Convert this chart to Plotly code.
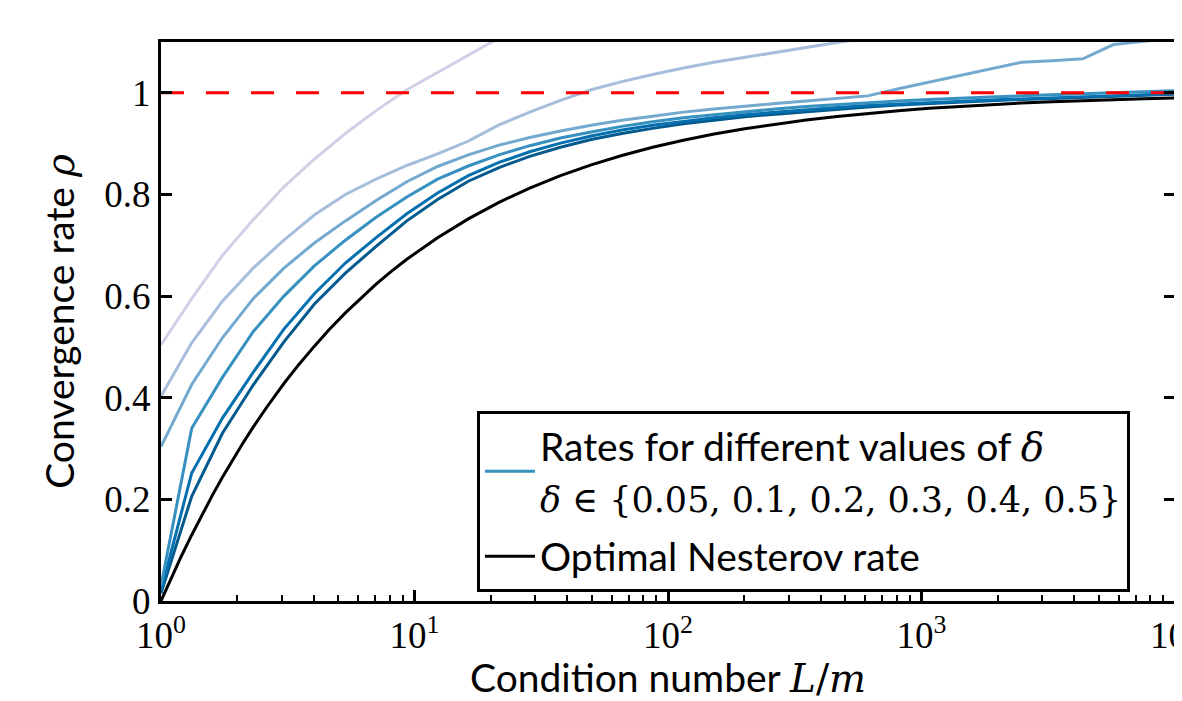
import plotly.graph_objects as go

# Condition numbers (log grid used by the computed rates)
kappa = [1, 1.322, 1.747, 2.310, 3.054, 4.037, 5.337, 7.055, 9.326, 12.33,
         16.30, 21.54, 28.48, 37.65, 49.77, 65.79, 86.97, 115.0, 152.0, 200.9,
         265.6, 351.1, 464.2, 613.6, 811.1, 1072, 1417, 1874, 2477, 3275,
         4329, 5722, 7565, 10000]

deltas = [0.05, 0.1, 0.2, 0.3, 0.4, 0.5]

rho_d005 = [0.015, 0.206, 0.33, 0.425, 0.51, 0.585, 0.645, 0.698, 0.748, 0.79,
            0.826, 0.853, 0.875, 0.893, 0.908, 0.92, 0.93, 0.939, 0.946, 0.953,
            0.958, 0.963, 0.968, 0.972, 0.976, 0.979, 0.982, 0.985, 0.987, 0.989,
            0.991, 0.993, 0.995, 0.997]
rho_d010 = [0.02, 0.252, 0.36, 0.45, 0.535, 0.605, 0.665, 0.715, 0.762, 0.803,
            0.837, 0.863, 0.884, 0.901, 0.915, 0.927, 0.936, 0.944, 0.951, 0.957,
            0.962, 0.967, 0.971, 0.975, 0.978, 0.981, 0.984, 0.986, 0.988, 0.99,
            0.992, 0.994, 0.996, 0.998]
rho_d020 = [0.03, 0.34, 0.44, 0.53, 0.60, 0.66, 0.71, 0.755, 0.795, 0.83,
            0.856, 0.878, 0.896, 0.911, 0.923, 0.934, 0.943, 0.951, 0.957, 0.963,
            0.968, 0.973, 0.977, 0.981, 0.984, 0.987, 0.99, 0.992, 0.994, 0.996,
            0.998, 1.0, 1.002, 1.004]
rho_d030 = [0.304, 0.426, 0.518, 0.595, 0.655, 0.705, 0.748, 0.788, 0.825, 0.855,
            0.878, 0.897, 0.912, 0.925, 0.936, 0.946, 0.954, 0.962, 0.968, 0.974,
            0.979, 0.984, 0.989, 0.994, 1.008, 1.021, 1.034, 1.047, 1.06, 1.063,
            1.067, 1.095, 1.101, 1.108]
rho_d040 = [0.403, 0.508, 0.59, 0.655, 0.71, 0.76, 0.80, 0.83, 0.857, 0.88,
            0.905, 0.937, 0.962, 0.985, 1.006, 1.022, 1.036, 1.049, 1.06, 1.07,
            1.08, 1.09, 1.099, 1.108, 1.116]
rho_d050 = [0.504, 0.595, 0.68, 0.75, 0.815, 0.87, 0.92, 0.965, 1.006, 1.04,
            1.075, 1.108, 1.14]

rates = [rho_d005, rho_d010, rho_d020, rho_d030, rho_d040, rho_d050]
colors = ["#045a8d", "#0570b0", "#3690c0", "#74a9cf", "#a6bddb", "#d0d1e6"]

# Optimal Nesterov rate (finer sampling)
kappa_nes = [1, 1.1, 1.2, 1.322, 1.45, 1.6, 1.747, 1.9, 2.1, 2.31, 2.6, 3.054,
             3.5, 4.037, 4.6, 5.337, 6.2, 7.055, 8.1, 9.326, 12.33, 16.30, 21.54,
             28.48, 37.65, 49.77, 65.79, 86.97, 115.0, 152.0, 200.9, 265.6, 351.1,
             464.2, 613.6, 811.1, 1072, 1417, 1874, 2477, 3275, 4329, 5722, 7565,
             10000]
rho_nes = [0.0, 0.0465, 0.0871, 0.130, 0.1695, 0.2094, 0.2435, 0.2745, 0.3099,
           0.342, 0.3798, 0.428, 0.4655, 0.502, 0.5337, 0.567, 0.5984, 0.6235,
           0.6486, 0.6725, 0.715, 0.752, 0.7845, 0.8126, 0.837, 0.8583, 0.8767,
           0.8928, 0.9067, 0.9189, 0.9295, 0.9386, 0.9466, 0.9536, 0.9596, 0.9649,
           0.9695, 0.9734, 0.9769, 0.9799, 0.9825, 0.9848, 0.9868, 0.9885, 0.99]

limit_x = [1, 10000]
limit_y = [1, 1]

x_tickvals = [1, 10, 100, 1000, 10000]
x_ticktext = ["10<sup>0</sup>", "10<sup>1</sup>", "10<sup>2</sup>", "10<sup>3</sup>", "10<sup>4</sup>"]
x_minor = [m * 10 ** e for e in range(4) for m in range(2, 10)]
y_tickvals = [0, 0.2, 0.4, 0.6, 0.8, 1.0]
y_ticktext = ["0", "0.2", "0.4", "0.6", "0.8", "1"]

SERIF = "Liberation Serif"
MATH = "DejaVu Serif"
SANS = "Lato"

fig = go.Figure()

for d, r, c in zip(deltas, rates, colors):
    fig.add_trace(go.Scatter(
        x=kappa[:len(r)], y=r, mode="lines",
        line=dict(color=c, width=3),
        name="δ = %g" % d, showlegend=False))

# legend proxy for the family of rates
fig.add_trace(go.Scatter(
    x=[None], y=[None], mode="lines", line=dict(color="#3690c0", width=3),
    name=("Rates for different values of <span style='font-family:%s'><i>δ</i></span><br>"
          "<span style='font-family:%s;font-size:35px'><i>δ</i> ∈ {0.05, 0.1, 0.2, 0.3, 0.4, 0.5}</span>") % (MATH, MATH),
    legendgroup="a"))

fig.add_trace(go.Scatter(
    x=kappa_nes, y=rho_nes, mode="lines", line=dict(color="black", width=3),
    name="Optimal Nesterov rate", legendgroup="b"))

fig.add_trace(go.Scatter(
    x=limit_x, y=limit_y, mode="lines",
    line=dict(color="#ff0000", width=3, dash="23px,22px"),
    showlegend=False))

# page body has an 8px margin: shrink the figure so the plot area lands
# at the reference position (161..1175, 42..601)
fig.update_layout(
    width=1174, height=693,
    margin=dict(l=153, r=7, t=34, b=100, autoexpand=False),
    paper_bgcolor="white", plot_bgcolor="white",
    font=dict(family=SANS, size=38, color="black"),
    legend=dict(
        x=0.3116, y=0.34, xanchor="left", yanchor="top",
        bordercolor="black", borderwidth=3, bgcolor="white",
        font=dict(family=SANS, size=39, color="black"),
        traceorder="grouped", tracegroupgap=6, valign="middle",
        itemwidth=50,
    ),
)

fig.update_xaxes(
    type="log", range=[0, 4], automargin=False,
    showline=True, linecolor="black", linewidth=3, mirror=True,
    showgrid=False, zeroline=False,
    ticks="inside", ticklen=11, tickwidth=2.5, tickcolor="black",
    tickvals=x_tickvals, ticktext=x_ticktext, ticklabeloverflow="allow",
    tickfont=dict(family=SERIF, size=37),
    minor=dict(tickvals=x_minor, ticks="inside", ticklen=6, tickwidth=2, tickcolor="black", showgrid=False),
    title=dict(text="Condition number <span style='font-family:%s'><i>L</i>/<i>m</i></span>" % MATH,
               font=dict(family=SANS, size=39), standoff=12),
)
fig.update_yaxes(
    range=[0, 1.1], automargin=False,
    showline=True, linecolor="black", linewidth=3, mirror="allticks",
    showgrid=False, zeroline=False,
    ticks="inside", ticklen=11, tickwidth=2.5, tickcolor="black",
    tickvals=y_tickvals, ticktext=y_ticktext,
    tickfont=dict(family=SERIF, size=37),
    title=dict(text="Convergence rate <span style='font-family:%s'><i>ρ</i></span>" % MATH,
               font=dict(family=SANS, size=39), standoff=18),
)

fig.write_html("out.html")
